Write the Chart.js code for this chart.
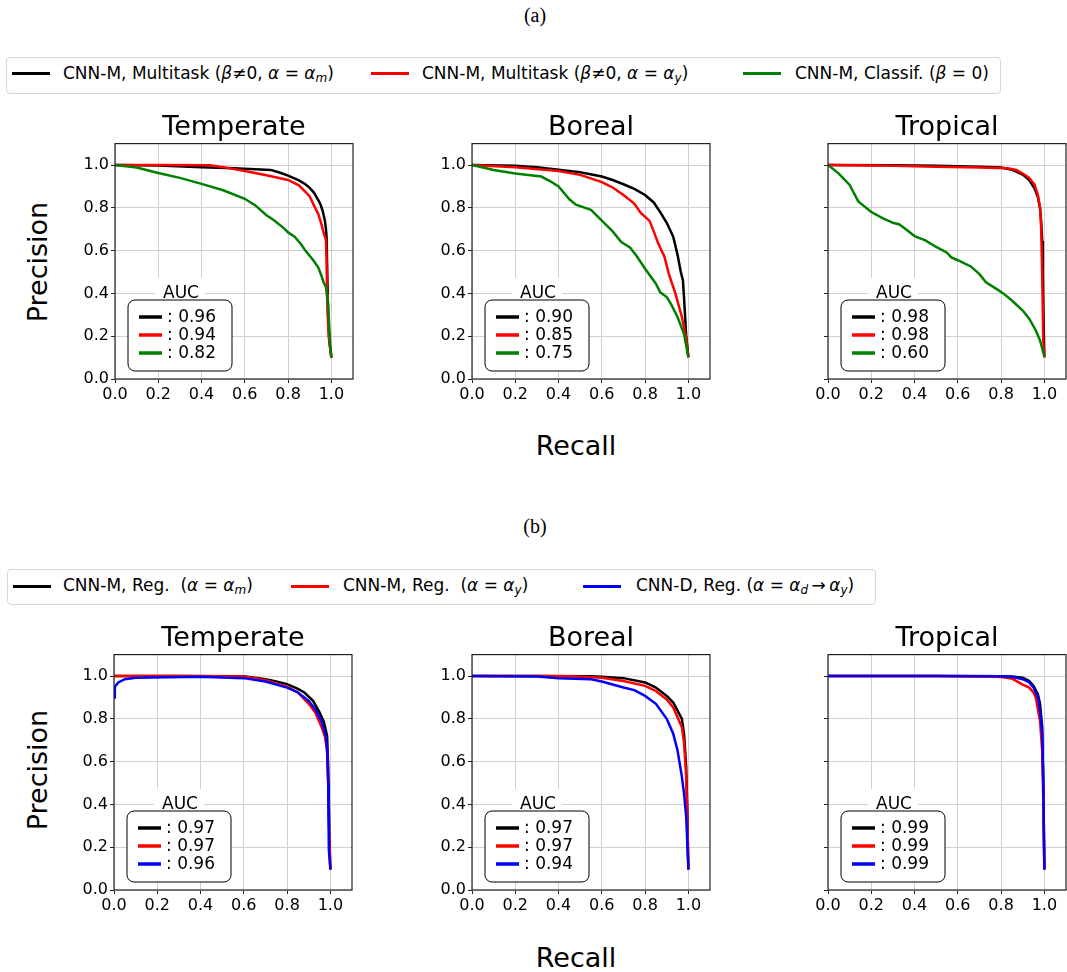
<!DOCTYPE html>
<html>
<head>
<meta charset="utf-8">
<script src="https://cdn.jsdelivr.net/npm/chart.js@4.4.1/dist/chart.umd.min.js"></script>
<style>
  html, body { margin: 0; padding: 0; background: #fff; overflow: hidden; }
  body { width: 1067px; height: 972px; position: relative; font-family: 'DejaVu Sans', sans-serif; color: #000; }
  canvas { position: absolute; }
  .txt { position: absolute; white-space: nowrap; line-height: 1; }
  .panel-label { font-family: 'Liberation Serif', 'Times New Roman', serif; font-size: 20px; transform: translateX(-50%); }
  .title { font-size: 27px; transform: translateX(-50%); }
  .ylab { font-size: 27px; transform: translate(-50%, -50%) rotate(-90deg); }
  .xlab { font-size: 27px; transform: translateX(-50%); }
  .legend { position: absolute; border: 1px solid #d6d6d6; border-radius: 4px; background: #fff; }
  .handle { position: absolute; height: 3px; }
  .lt { position: absolute; font-size: 17px; white-space: nowrap; line-height: 1; }
  .lt i { font-style: oblique; }
  .lt sub { font-size: 12px; vertical-align: -3px; line-height: 0; }
</style>
</head>
<body>
<div class="txt panel-label" style="left:535px; top:5px;">(a)</div>
<div class="txt panel-label" style="left:535px; top:516px;">(b)</div>

<div class="legend" style="left:6px; top:57px; width:993px; height:35px;"></div>
<div class="handle" style="left:12px; top:72px; width:38px; background:#000;"></div>
<div class="lt" style="left:63px; top:65px;">CNN-M, Multitask (<i>β</i>≠0, <i>α</i> = <i>α</i><sub><i>m</i></sub>)</div>
<div class="handle" style="left:371px; top:72px; width:38px; background:#ff0000;"></div>
<div class="lt" style="left:422px; top:65px;">CNN-M, Multitask (<i>β</i>≠0, <i>α</i> = <i>α</i><sub><i>y</i></sub>)</div>
<div class="handle" style="left:743px; top:72px; width:38px; background:#008000;"></div>
<div class="lt" style="left:795px; top:65px;">CNN-M, Classif. (<i>β</i> = 0)</div>

<div class="legend" style="left:7px; top:569px; width:867px; height:34px;"></div>
<div class="handle" style="left:13px; top:585px; width:38px; background:#000;"></div>
<div class="lt" style="left:63px; top:577px;">CNN-M, Reg.&nbsp; (<i>α</i> = <i>α</i><sub><i>m</i></sub>)</div>
<div class="handle" style="left:291px; top:585px; width:38px; background:#ff0000;"></div>
<div class="lt" style="left:343px; top:577px;">CNN-M, Reg.&nbsp; (<i>α</i> = <i>α</i><sub><i>y</i></sub>)</div>
<div class="handle" style="left:583px; top:585px; width:38px; background:#0000ff;"></div>
<div class="lt" style="left:636px; top:577px;">CNN-D, Reg. (<i>α</i> = <i>α</i><sub><i>d</i></sub>&thinsp;→&thinsp;<i>α</i><sub><i>y</i></sub>)</div>

<div class="txt ylab" style="left:37px; top:262px;">Precision</div>
<div class="txt ylab" style="left:37px; top:770px;">Precision</div>
<div class="txt xlab" style="left:576px; top:432px;">Recall</div>
<div class="txt xlab" style="left:576px; top:944px;">Recall</div>

<script>
// tick labels
const xTicks = [0, 0.2, 0.4, 0.6, 0.8, 1.0];
const yTicks = [0, 0.2, 0.4, 0.6, 0.8, 1.0];

// (a) curves: [recall, precision]
const tempMultiM = [[0,1.0],[0.2,0.998],[0.4,0.99],[0.55,0.985],[0.72,0.977],[0.76,0.965],[0.8,0.95],[0.85,0.928],[0.88,0.91],[0.9,0.893],[0.92,0.87],[0.94,0.835],[0.95,0.815],[0.96,0.785],[0.97,0.74],[0.975,0.70],[0.978,0.66],[0.982,0.45],[0.985,0.3],[0.99,0.18],[1.0,0.1]];
const tempMultiY = [[0,1.0],[0.2,1.0],[0.44,0.999],[0.5,0.99],[0.6,0.972],[0.7,0.952],[0.8,0.93],[0.85,0.905],[0.88,0.875],[0.9,0.853],[0.92,0.81],[0.94,0.77],[0.955,0.72],[0.965,0.68],[0.975,0.65],[0.978,0.55],[0.98,0.4],[0.983,0.3],[0.988,0.2],[1.0,0.1]];
const tempClassif = [[0,1.0],[0.1,0.988],[0.2,0.963],[0.3,0.94],[0.4,0.912],[0.5,0.882],[0.6,0.842],[0.65,0.81],[0.7,0.765],[0.73,0.745],[0.78,0.705],[0.8,0.685],[0.83,0.665],[0.86,0.63],[0.88,0.60],[0.92,0.55],[0.94,0.52],[0.955,0.48],[0.965,0.45],[0.975,0.43],[0.985,0.35],[0.99,0.25],[0.995,0.16],[1.0,0.1]];

const borMultiM = [[0,1.0],[0.2,0.997],[0.3,0.99],[0.4,0.978],[0.5,0.966],[0.6,0.946],[0.65,0.93],[0.7,0.91],[0.75,0.888],[0.8,0.86],[0.84,0.825],[0.87,0.78],[0.9,0.73],[0.93,0.665],[0.95,0.58],[0.965,0.5],[0.975,0.46],[0.98,0.38],[0.985,0.29],[0.99,0.2],[1.0,0.105]];
const borMultiY = [[0,1.0],[0.2,0.99],[0.4,0.972],[0.5,0.954],[0.6,0.92],[0.65,0.895],[0.7,0.86],[0.75,0.82],[0.78,0.776],[0.82,0.74],[0.84,0.69],[0.86,0.635],[0.89,0.57],[0.91,0.49],[0.94,0.40],[0.97,0.29],[0.99,0.19],[1.0,0.1]];
const borClassif = [[0,1.0],[0.1,0.977],[0.2,0.96],[0.32,0.946],[0.36,0.925],[0.4,0.90],[0.45,0.84],[0.48,0.815],[0.55,0.79],[0.6,0.74],[0.65,0.69],[0.69,0.64],[0.73,0.615],[0.76,0.576],[0.8,0.515],[0.85,0.445],[0.87,0.405],[0.9,0.383],[0.92,0.35],[0.95,0.29],[0.98,0.21],[1.0,0.1]];

const tropMultiM = [[0,1.0],[0.3,0.999],[0.5,0.997],[0.7,0.992],[0.8,0.988],[0.85,0.978],[0.9,0.955],[0.93,0.93],[0.955,0.89],[0.97,0.85],[0.98,0.80],[0.985,0.74],[0.99,0.645],[0.993,0.5],[0.996,0.3],[1.0,0.105]];
const tropMultiY = [[0,1.0],[0.3,0.996],[0.5,0.992],[0.7,0.988],[0.83,0.985],[0.87,0.977],[0.9,0.96],[0.93,0.94],[0.955,0.907],[0.97,0.86],[0.98,0.80],[0.985,0.71],[0.99,0.49],[0.995,0.18],[1.0,0.1]];
const tropClassif = [[0,1.0],[0.05,0.96],[0.1,0.907],[0.14,0.83],[0.2,0.78],[0.25,0.753],[0.3,0.73],[0.33,0.722],[0.36,0.70],[0.4,0.668],[0.45,0.648],[0.5,0.617],[0.55,0.59],[0.57,0.568],[0.6,0.555],[0.66,0.526],[0.7,0.49],[0.73,0.452],[0.78,0.42],[0.81,0.40],[0.85,0.367],[0.9,0.32],[0.93,0.282],[0.96,0.228],[0.98,0.18],[1.0,0.105]];

// (b) curves
const tempRegM = [[0,1.0],[0.3,1.0],[0.6,0.999],[0.65,0.992],[0.7,0.985],[0.75,0.975],[0.8,0.962],[0.85,0.94],[0.88,0.923],[0.92,0.884],[0.95,0.83],[0.97,0.785],[0.985,0.72],[0.99,0.575],[0.995,0.266],[1.0,0.096]];
const tempRegY = [[0,1.0],[0.3,1.0],[0.6,0.998],[0.7,0.98],[0.8,0.95],[0.85,0.923],[0.9,0.87],[0.93,0.83],[0.96,0.76],[0.975,0.716],[0.985,0.65],[0.99,0.50],[0.995,0.25],[1.0,0.096]];
const tempRegD = [[0,0.9],[0.004,0.95],[0.02,0.97],[0.05,0.985],[0.1,0.992],[0.4,0.997],[0.6,0.99],[0.7,0.974],[0.8,0.946],[0.85,0.923],[0.9,0.884],[0.93,0.845],[0.96,0.785],[0.98,0.715],[0.985,0.65],[0.99,0.50],[0.993,0.19],[1.0,0.096]];

const borRegM = [[0,1.0],[0.3,1.0],[0.55,0.999],[0.6,0.997],[0.7,0.99],[0.8,0.97],[0.85,0.946],[0.9,0.907],[0.93,0.876],[0.95,0.838],[0.97,0.80],[0.98,0.73],[0.99,0.575],[0.995,0.374],[1.0,0.096]];
const borRegY = [[0,1.0],[0.3,1.0],[0.45,0.999],[0.6,0.992],[0.7,0.977],[0.8,0.954],[0.85,0.93],[0.9,0.89],[0.93,0.853],[0.95,0.807],[0.97,0.76],[0.98,0.69],[0.99,0.53],[0.995,0.345],[1.0,0.096]];
const borRegD = [[0,1.0],[0.3,0.998],[0.4,0.99],[0.55,0.985],[0.6,0.974],[0.7,0.946],[0.75,0.934],[0.8,0.907],[0.85,0.87],[0.9,0.80],[0.93,0.73],[0.95,0.652],[0.97,0.53],[0.98,0.45],[0.99,0.343],[0.995,0.22],[1.0,0.096]];

const tropRegM = [[0,1.0],[0.5,1.0],[0.8,0.999],[0.85,0.998],[0.9,0.992],[0.93,0.977],[0.95,0.954],[0.97,0.915],[0.98,0.87],[0.99,0.76],[0.995,0.50],[1.0,0.096]];
const tropRegY = [[0,1.0],[0.5,1.0],[0.75,0.998],[0.8,0.995],[0.85,0.988],[0.9,0.96],[0.93,0.946],[0.95,0.923],[0.96,0.90],[0.97,0.845],[0.98,0.79],[0.99,0.65],[0.995,0.42],[1.0,0.096]];
const tropRegD = [[0,1.0],[0.5,1.0],[0.8,0.999],[0.85,0.996],[0.9,0.985],[0.93,0.97],[0.95,0.946],[0.97,0.90],[0.98,0.838],[0.99,0.73],[0.995,0.50],[1.0,0.096]];

// AUC values shown in the small legends
const aucTemperateA = [0.96, 0.94, 0.82];
const aucBorealA = [0.90, 0.85, 0.75];
const aucTropicalA = [0.98, 0.98, 0.60];
const aucTemperateB = [0.97, 0.97, 0.96];
const aucBorealB = [0.97, 0.97, 0.94];
const aucTropicalB = [0.99, 0.99, 0.99];

const colorsA = ['#000000', '#ff0000', '#008000'];
const colorsB = ['#000000', '#ff0000', '#0000ff'];

const FONT = "'DejaVu Sans', sans-serif";
const Y_W = 70, X_H = 30, PAD_T = 10, PAD_R = 2;
const PLOT_W = 238, PLOT_H = 237;

const panels = [
  { left: 115, top: 142, title: 'Temperate', curves: [tempMultiM, tempMultiY, tempClassif], colors: colorsA, auc: aucTemperateA, yLabels: true },
  { left: 472, top: 142, title: 'Boreal', curves: [borMultiM, borMultiY, borClassif], colors: colorsA, auc: aucBorealA, yLabels: true },
  { left: 828, top: 142, title: 'Tropical', curves: [tropMultiM, tropMultiY, tropClassif], colors: colorsA, auc: aucTropicalA, yLabels: false },
  { left: 114, top: 653, title: 'Temperate', curves: [tempRegM, tempRegY, tempRegD], colors: colorsB, auc: aucTemperateB, yLabels: true },
  { left: 472, top: 653, title: 'Boreal', curves: [borRegM, borRegY, borRegD], colors: colorsB, auc: aucBorealB, yLabels: true },
  { left: 828, top: 653, title: 'Tropical', curves: [tropRegM, tropRegY, tropRegD], colors: colorsB, auc: aucTropicalB, yLabels: false },
];

// frame + AUC legend drawn over the plot
const framePlugin = {
  id: 'frameAuc',
  afterDraw(chart, args, opts) {
    const { ctx, chartArea: a } = chart;
    ctx.save();
    ctx.strokeStyle = '#222';
    ctx.lineWidth = 1.2;
    ctx.strokeRect(a.left, a.top, a.right - a.left, a.bottom - a.top);

    // AUC box
    const bw = 104, bh = 71;
    const bx = a.left + 13, by = a.bottom - 8 - bh;
    ctx.fillStyle = '#fff';
    ctx.fillRect(bx + 27, by - 22, 50, 22);
    ctx.beginPath();
    ctx.roundRect(bx, by, bw, bh, 7);
    ctx.fill();
    ctx.strokeStyle = '#000';
    ctx.lineWidth = 1;
    ctx.stroke();

    ctx.fillStyle = '#000';
    ctx.font = '17px ' + FONT;
    ctx.textAlign = 'center';
    ctx.textBaseline = 'middle';
    ctx.fillText('AUC', bx + 53, by - 6);

    ctx.textAlign = 'left';
    opts.auc.forEach((v, i) => {
      const yy = by + 17 + i * 18;
      ctx.strokeStyle = opts.colors[i];
      ctx.lineWidth = 3.5;
      ctx.beginPath();
      ctx.moveTo(bx + 11, yy);
      ctx.lineTo(bx + 34, yy);
      ctx.stroke();
      ctx.fillStyle = '#000';
      ctx.fillText(': ' + v.toFixed(2), bx + 39, yy + 1);
    });
    ctx.restore();
  }
};

function addText(cls, x, y, text) {
  const d = document.createElement('div');
  d.className = 'txt ' + cls;
  d.style.left = x + 'px';
  d.style.top = y + 'px';
  d.textContent = text;
  document.body.appendChild(d);
}

panels.forEach(p => {
  const cv = document.createElement('canvas');
  const w = Y_W + PLOT_W + PAD_R, h = PAD_T + PLOT_H + X_H;
  cv.width = w; cv.height = h;
  cv.style.left = (p.left - Y_W) + 'px';
  cv.style.top = (p.top - PAD_T) + 'px';
  cv.style.width = w + 'px';
  cv.style.height = h + 'px';
  document.body.appendChild(cv);

  addText('title', p.left + PLOT_W / 2, p.top - 30, p.title);

  const datasets = p.curves.map((c, i) => ({
    data: c.map(([x, y]) => ({ x, y })),
    borderColor: p.colors[i],
    borderWidth: 2.5,
    pointRadius: 0,
    showLine: true,
    tension: 0,
    order: 3 - i,
  }));

  new Chart(cv.getContext('2d'), {
    type: 'scatter',
    data: { datasets },
    plugins: [framePlugin],
    options: {
      responsive: false,
      animation: false,
      devicePixelRatio: 1,
      layout: { padding: { left: 0, right: PAD_R, top: PAD_T, bottom: 0 } },
      plugins: {
        legend: { display: false },
        tooltip: { enabled: false },
        frameAuc: { auc: p.auc, colors: p.colors },
      },
      scales: {
        x: {
          type: 'linear', min: 0, max: 1.1,
          afterBuildTicks: s => { s.ticks = xTicks.map(v => ({ value: v })); },
          afterFit: s => { s.height = X_H; },
          grid: { color: '#d0d0d0', lineWidth: 1, tickColor: '#222', tickLength: 4 },
          border: { display: false },
          ticks: { color: '#000', font: { family: FONT, size: 16 }, padding: 2, maxRotation: 0,
                   callback: v => v.toFixed(1) },
        },
        y: {
          type: 'linear', min: 0, max: 1.1,
          afterBuildTicks: s => { s.ticks = yTicks.map(v => ({ value: v })); },
          afterFit: s => { s.width = Y_W; },
          grid: { color: '#d0d0d0', lineWidth: 1, tickColor: '#222', tickLength: 4 },
          border: { display: false },
          ticks: { color: '#000', font: { family: FONT, size: 16 }, padding: 2,
                   callback: v => p.yLabels ? v.toFixed(1) : '' },
        },
      },
    },
  });
});
</script>
</body>
</html>
